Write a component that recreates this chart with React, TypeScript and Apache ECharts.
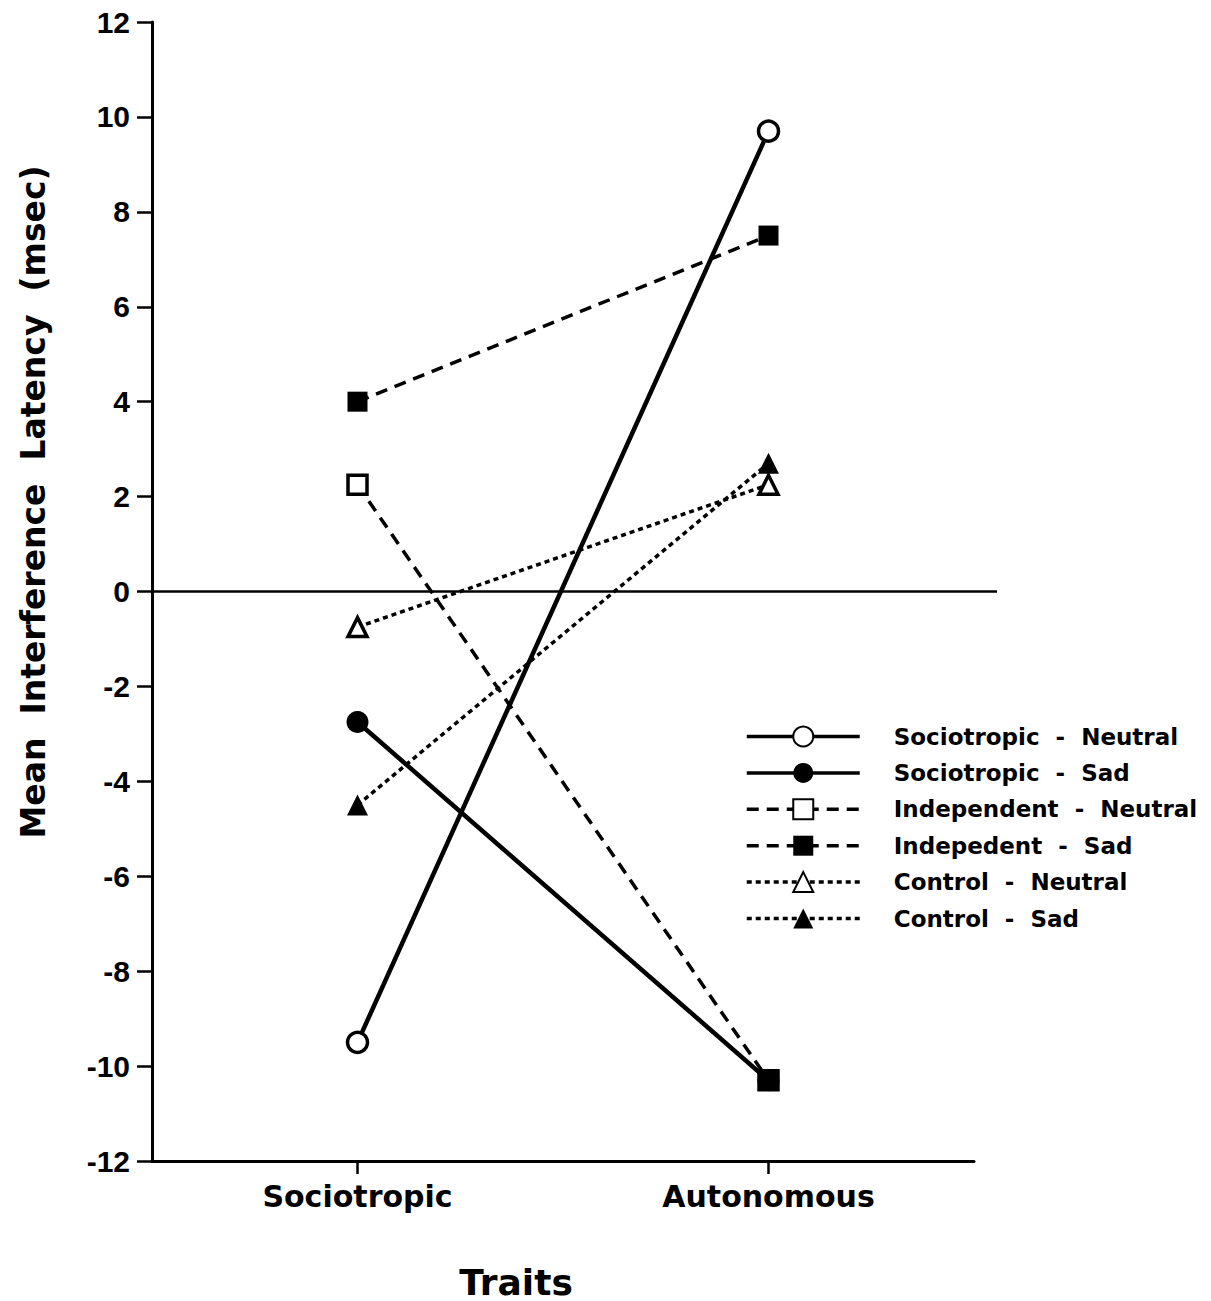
import React, { useEffect, useRef } from 'react';
import * as echarts from 'echarts';

const categories = ['Sociotropic', 'Autonomous'];
const seriesNames = [
  'Sociotropic  -  Neutral',
  'Sociotropic  -  Sad',
  'Independent  -  Neutral',
  'Indepedent  -  Sad',
  'Control  -  Neutral',
  'Control  -  Sad',
];
const sociotropicNeutral = [-9.5, 9.7];
const sociotropicSad = [-2.75, -10.3];
const independentNeutral = [2.25, -10.3];
const independentSad = [4.0, 7.5];
const controlNeutral = [-0.75, 2.25];
const controlSad = [-4.5, 2.7];
const yMin = -12;
const yMax = 12;
const yInterval = 2;
const yTitle = 'Mean  Interference  Latency  (msec)';
const xTitle = 'Traits';

const FONT = "'DejaVu Sans', sans-serif";
const NUMFONT = "'Liberation Sans', Arial, sans-serif";

function lineSeries(name: string, data: any[], symbol: string, size: number, hollow: boolean, dash: any, width: number) {
  return {
    name,
    type: 'line',
    data,
    symbol,
    symbolSize: size,
    showSymbol: true,
    lineStyle: { color: '#000', width, type: dash },
    itemStyle: {
      color: hollow ? '#fff' : '#000',
      borderColor: '#000',
      borderWidth: hollow ? 3.5 : 0,
      opacity: 1,
    },
    emphasis: { disabled: true },
    z: 3,
  };
}

export default function App() {
  const ref = useRef<HTMLDivElement>(null);
  useEffect(() => {
    document.body.style.margin = '0';
    const chart = echarts.init(ref.current!, null, { renderer: 'svg' });
    const dashed = [12, 8];
    const dotted = [5, 4];
    // at the Autonomous end the overlapping markers print as a solid square
    const indNeutralData = independentNeutral.map((v, i) =>
      i === 1 ? { value: v, itemStyle: { color: '#000' } } : v
    );
    const option: any = {
      animation: false,
      backgroundColor: '#fff',
      grid: { left: 152, top: 22, width: 822, height: 1139 },
      xAxis: {
        type: 'category',
        data: categories,
        boundaryGap: true,
        axisLine: { show: true, onZero: false, lineStyle: { color: '#000', width: 3 } },
        axisTick: { show: true, alignWithLabel: true, length: 13, lineStyle: { color: '#000', width: 2.5 } },
        axisLabel: { color: '#000', fontFamily: FONT, fontWeight: 'bold', fontSize: 30, margin: 20 },
        splitLine: { show: false },
      },
      yAxis: {
        type: 'value',
        min: yMin,
        max: yMax,
        interval: yInterval,
        axisLine: { show: true, onZero: false, lineStyle: { color: '#000', width: 3 } },
        axisTick: { show: true, length: 15, lineStyle: { color: '#000', width: 2.5 } },
        axisLabel: { color: '#000', fontFamily: NUMFONT, fontWeight: 'bold', fontSize: 30, margin: 22 },
        splitLine: { show: false },
      },
      legend: {
        orient: 'vertical',
        left: 745,
        top: 724,
        padding: 0,
        itemWidth: 113,
        itemHeight: 25,
        itemGap: 11.4,
        selectedMode: false,
        lineStyle: { width: 3.5 },
        textStyle: {
          color: '#000',
          fontFamily: FONT,
          fontWeight: 'bold',
          fontSize: 23,
          lineHeight: 25,
          padding: [0, 0, 0, 29],
        },
        data: seriesNames,
      },
      series: [
        lineSeries(seriesNames[0], sociotropicNeutral, 'circle', 20, true, 'solid', 4.5),
        lineSeries(seriesNames[1], sociotropicSad, 'circle', 22, false, 'solid', 4.5),
        lineSeries(seriesNames[2], indNeutralData, 'rect', 19, true, dashed, 3.5),
        lineSeries(seriesNames[3], independentSad, 'rect', 20, false, dashed, 3.5),
        lineSeries(seriesNames[4], controlNeutral, 'triangle', 19, true, dotted, 3.5),
        lineSeries(seriesNames[5], controlSad, 'triangle', 21, false, dotted, 3.5),
      ],
    };
    chart.setOption(option);
    const y0 = chart.convertToPixel({ yAxisIndex: 0 }, 0) as number;
    chart.setOption({
      graphic: [
        {
          id: 'zero',
          type: 'line',
          shape: { x1: 152, y1: y0, x2: 997, y2: y0 },
          style: { stroke: '#000', lineWidth: 2.5 },
          z: 1,
        },
        {
          id: 'ytitle',
          type: 'text',
          x: 33,
          y: 502,
          rotation: Math.PI / 2,
          style: {
            text: yTitle,
            fill: '#000',
            font: `bold 33px ${FONT}`,
            align: 'center',
            verticalAlign: 'middle',
          },
        },
        {
          id: 'xtitle',
          type: 'text',
          x: 516,
          y: 1282,
          style: {
            text: xTitle,
            fill: '#000',
            font: `bold 36px ${FONT}`,
            align: 'center',
            verticalAlign: 'middle',
          },
        },
      ],
    });
    return () => chart.dispose();
  }, []);
  return <div ref={ref} style={{ width: 1211, height: 1301 }} />;
}
